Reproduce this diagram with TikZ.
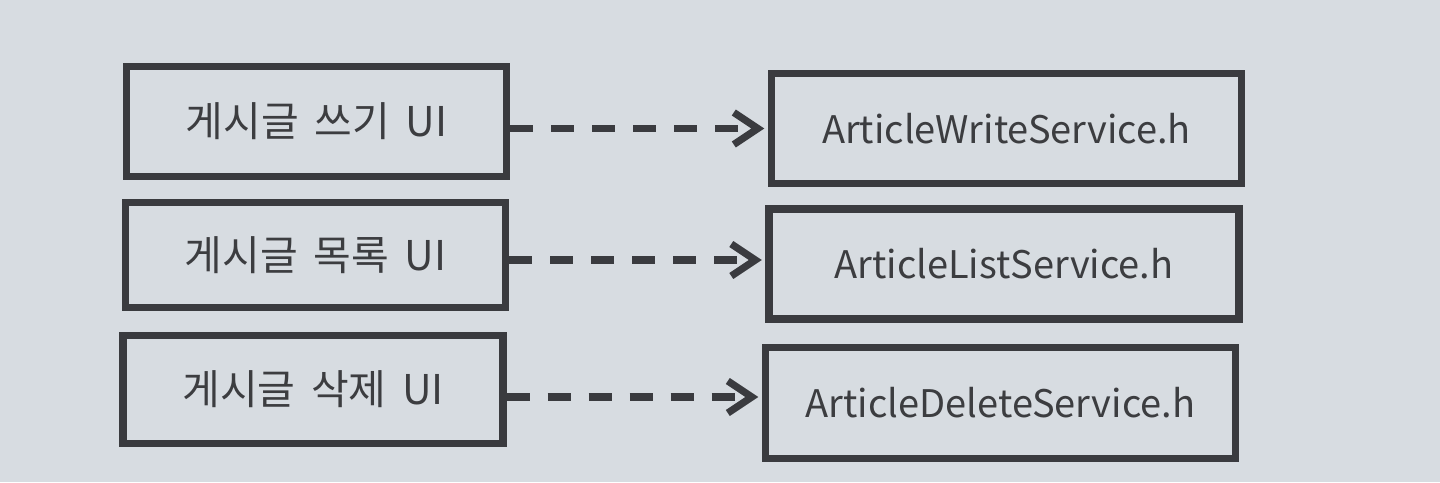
\documentclass[tikz,border=0pt]{standalone}
\usepackage{fontspec}
\setmainfont{Noto Sans CJK KR}
\newfontfamily\krfont[WordSpace=1.7]{Noto Sans CJK KR}
\usetikzlibrary{arrows.meta}
\definecolor{bgc}{HTML}{D7DCE1}
\definecolor{ink}{HTML}{3A3B3F}
\definecolor{txt}{HTML}{3C3D40}
\tikzset{
  box/.style={draw=ink, line width=3.6pt, rectangle, inner sep=0pt, text=txt},
  lbox/.style={box, minimum width=190pt, font=\krfont\fontsize{20.5}{24}\selectfont},
  rbox/.style={box, minimum width=235pt, font=\fontsize{19}{23}\selectfont},
  dep/.style={draw=ink, line width=3.6pt, dash pattern=on 11.5pt off 9pt,
    -{Straight Barb[length=12pt, width=16pt, line width=3.6pt]}, shorten >=1.8pt}
}
\begin{document}
\begin{tikzpicture}[x=0.5pt, y=-0.5pt]
\fill[bgc] (0,0) rectangle (1440,482);
\useasboundingbox (0,0) rectangle (1440,482);
\node[lbox, minimum height=55pt]   (L1) at (316.5,121.5) {게시글 쓰기 UI};
\node[lbox, minimum height=52.5pt] (L2) at (315.5,255)   {게시글 목록 UI};
\node[lbox, minimum height=54pt]   (L3) at (313,389.5)   {게시글 삭제 UI};
\node[rbox, minimum height=55pt]   (R1) at (1006.5,128.5) {ArticleWriteService.h};
\node[rbox, minimum height=55pt]   (R2) at (1004,264)   {ArticleListService.h};
\node[rbox, minimum height=55.5pt] (R3) at (1000.5,403) {ArticleDeleteService.h};
\draw[dep] (L1.east |- R1.west) -- (R1.west);
\draw[dep] ([yshift=2pt]L2.east |- R2.west) -- ([yshift=2pt]R2.west);
\draw[dep] ([yshift=3pt]L3.east |- R3.west) -- ([yshift=3pt]R3.west);
\end{tikzpicture}
\end{document}
